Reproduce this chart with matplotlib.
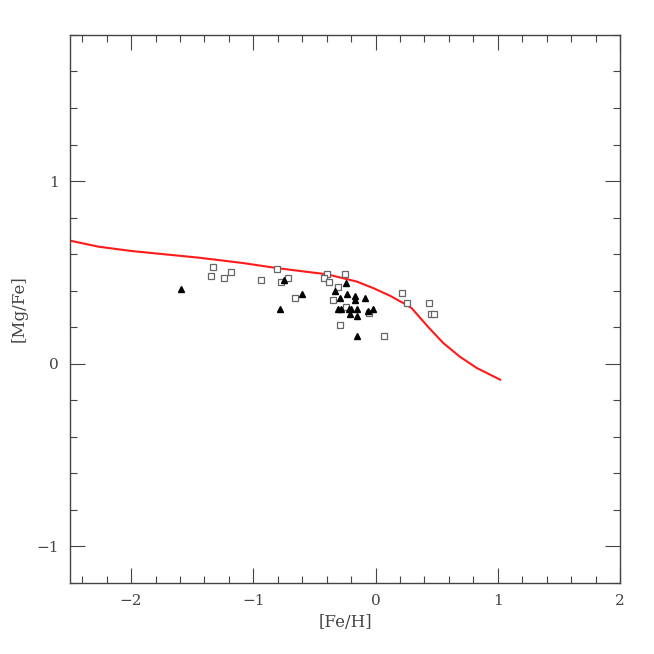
import matplotlib
matplotlib.use("Agg")
import matplotlib.pyplot as plt
from matplotlib.ticker import MultipleLocator

# Model curve
model_feh = [-2.5, -2.268, -1.995, -1.723, -1.450, -1.313, -1.082, -0.809, -0.536,
             -0.399, -0.264, -0.154, -0.018, 0.119, 0.255, 0.296, 0.364, 0.446,
             0.555, 0.691, 0.828, 1.019]
model_mgfe = [0.674, 0.641, 0.617, 0.599, 0.581, 0.570, 0.551, 0.524, 0.501,
              0.490, 0.468, 0.450, 0.414, 0.372, 0.322, 0.304, 0.252, 0.190,
              0.113, 0.038, -0.023, -0.087]

# Open squares
sq_feh = [-1.33, -1.35, -1.24, -1.18, -0.94, -0.81, -0.77, -0.72, -0.66, -0.40, -0.42,
          -0.38, -0.25, -0.31, -0.35, -0.24, -0.29, -0.05, 0.07, 0.22, 0.26, 0.44, 0.45, 0.48]
sq_mgfe = [0.53, 0.48, 0.47, 0.50, 0.46, 0.52, 0.45, 0.47, 0.36, 0.49, 0.47,
           0.45, 0.49, 0.42, 0.35, 0.31, 0.21, 0.28, 0.15, 0.39, 0.33, 0.33, 0.27, 0.27]

# Filled triangles
tri_feh = [-1.59, -0.75, -0.60, -0.78, -0.24, -0.33, -0.23, -0.17, -0.17, -0.29, -0.09,
           -0.31, -0.28, -0.22, -0.20, -0.15, -0.21, -0.15, -0.02, -0.15, -0.06]
tri_mgfe = [0.41, 0.46, 0.38, 0.30, 0.44, 0.40, 0.38, 0.37, 0.35, 0.36, 0.36,
            0.30, 0.30, 0.30, 0.30, 0.30, 0.27, 0.26, 0.30, 0.15, 0.29]

plt.rcParams['font.family'] = ['DejaVu Serif']
fig = plt.figure(figsize=(6.54, 6.54), dpi=100)
ax = fig.add_axes([0.107, 0.1086, 0.841, 0.838])

ax.plot(model_feh, model_mgfe, color='#ff1a1a', lw=1.5, zorder=2, solid_joinstyle='round')
ax.plot(sq_feh, sq_mgfe, ls='none', marker='s', ms=5, mfc='white', mec='#666666', mew=0.9, zorder=3)
ax.plot(tri_feh, tri_mgfe, ls='none', marker='^', ms=5, color='black', zorder=4)

ax.set_xlim(-2.5, 2.0)
ax.set_ylim(-1.2, 1.8)
ax.xaxis.set_major_locator(MultipleLocator(1))
ax.xaxis.set_minor_locator(MultipleLocator(0.2))
ax.yaxis.set_major_locator(MultipleLocator(1))
ax.yaxis.set_minor_locator(MultipleLocator(0.2))
ax.tick_params(which='both', direction='in', top=True, right=True, color='#444444',
               labelcolor='#444444', labelsize=11, width=0.8)
ax.tick_params(which='major', length=11, pad=8)
ax.tick_params(which='minor', length=5)
for s in ax.spines.values():
    s.set_color('#444444')
    s.set_linewidth(1.0)

ax.set_xlabel('[Fe/H]', color='#444444', fontsize=12, labelpad=4)
ax.set_ylabel('[Mg/Fe]', color='#444444', fontsize=12, labelpad=6)

fig.savefig('out.png', dpi=100)
